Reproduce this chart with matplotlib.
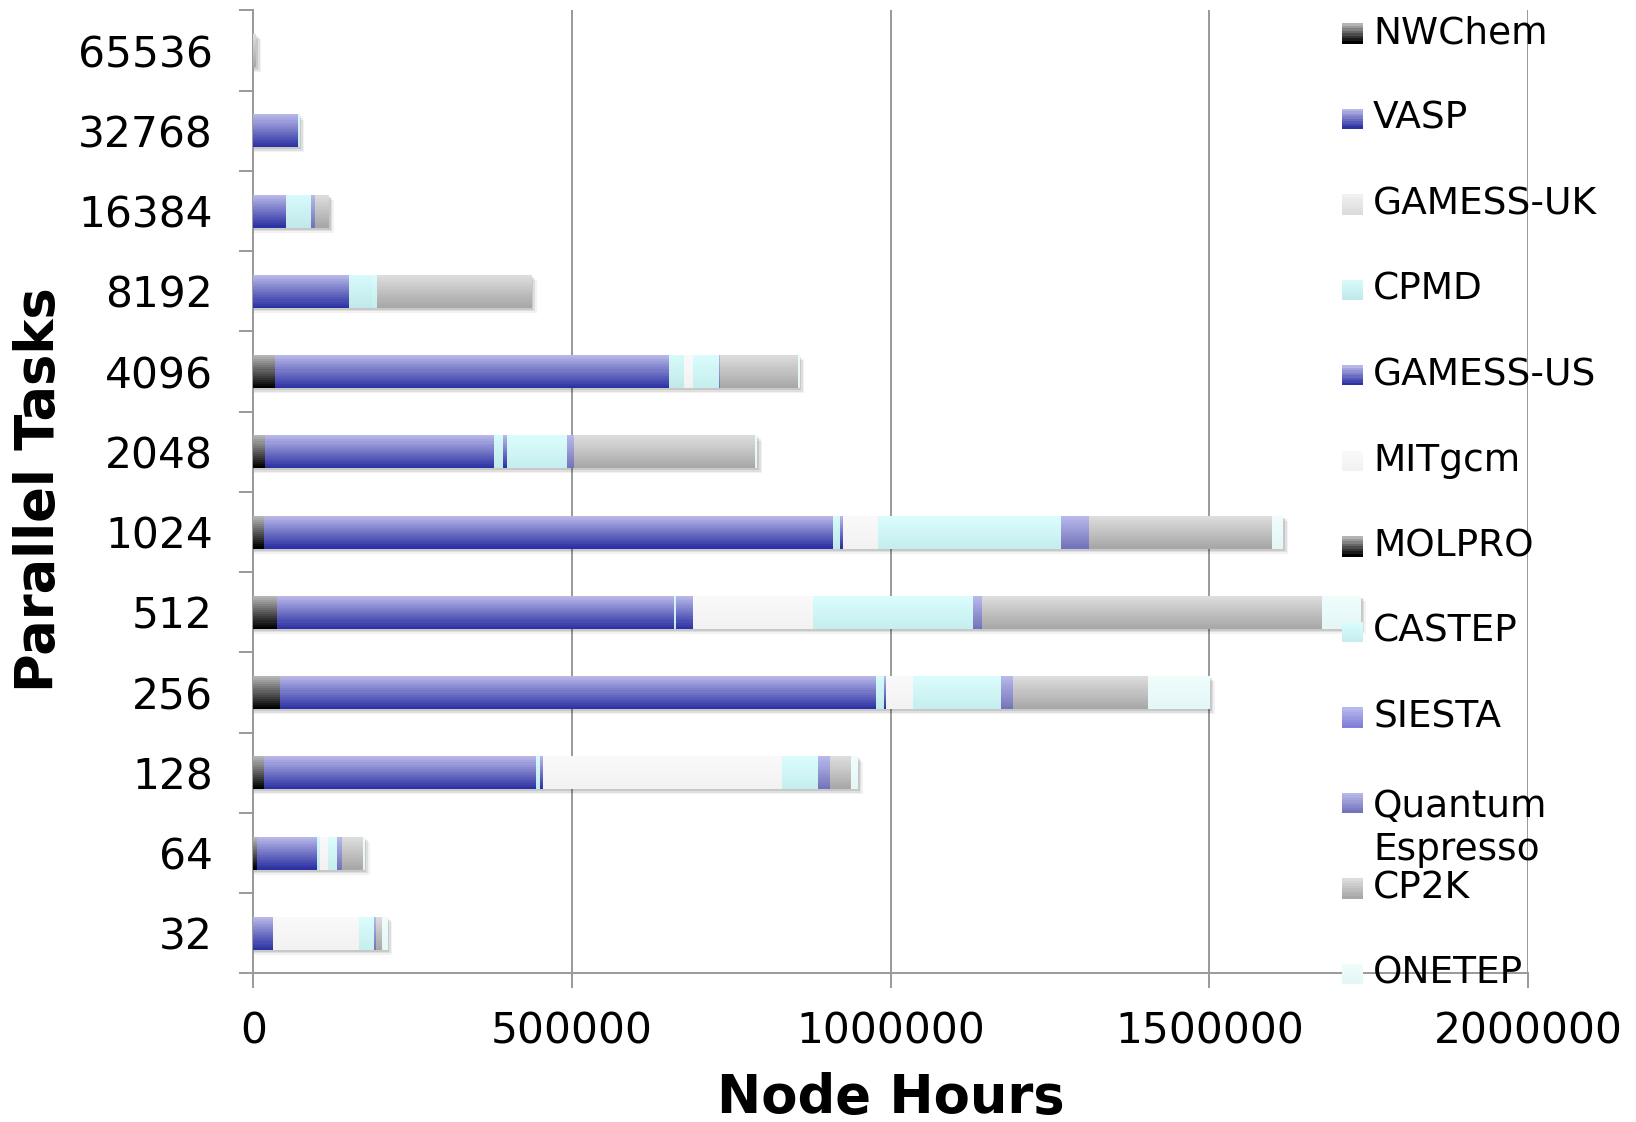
#!/usr/bin/env python3

import matplotlib
matplotlib.use('Agg')
import matplotlib.pyplot as plt
import numpy as np
from matplotlib.colors import to_rgb
from matplotlib.patches import Rectangle

# categories (bottom to top)
tasks = ['32', '64', '128', '256', '512', '1024', '2048', '4096', '8192', '16384', '32768', '65536']

# node hours per code, same order as tasks
nwchem    = [0, 6500, 17600, 42200, 37800, 17600, 18000, 33600, 0, 0, 0, 0]
vasp      = [30900, 93600, 425900, 935000, 622100, 891700, 359800, 618600, 150000, 51300, 70600, 0]
gamess_uk = [0, 0, 0, 0, 0, 0, 0, 0, 0, 0, 0, 0]
cpmd      = [0, 3900, 6500, 12600, 3500, 11200, 13800, 23400, 35600, 39200, 2000, 0]
gamess_us = [0, 0, 4500, 2800, 26600, 4900, 6000, 0, 0, 0, 0, 0]
mitgcm    = [134900, 13000, 374600, 42400, 188400, 54600, 0, 14400, 0, 0, 0, 0]
molpro    = [0, 0, 0, 0, 0, 0, 0, 0, 0, 0, 0, 0]
castep    = [23500, 14300, 56500, 138100, 250700, 286600, 94900, 40800, 7800, 0, 0, 0]
siesta    = [0, 0, 0, 0, 0, 0, 0, 0, 0, 0, 0, 0]
qe        = [2600, 7800, 18900, 19300, 14200, 44200, 10800, 1000, 0, 6300, 0, 0]
cp2k      = [9900, 33200, 33200, 211300, 533600, 288200, 284000, 122300, 243700, 22000, 0, 5000]
onetep    = [9000, 2600, 11000, 97300, 61500, 17300, 3600, 3000, 0, 0, 0, 0]

codes = ['NWChem', 'VASP', 'GAMESS-UK', 'CPMD', 'GAMESS-US', 'MITgcm', 'MOLPRO',
         'CASTEP', 'SIESTA', 'Quantum\nEspresso', 'CP2K', 'ONETEP']
series = [nwchem, vasp, gamess_uk, cpmd, gamess_us, mitgcm, molpro,
          castep, siesta, qe, cp2k, onetep]

# gradient colours (top, bottom) for each code
grads = [('#b4b4b4', '#000000'), ('#b6b6e8', '#2e33a3'), ('#f0f0f0', '#dcdcdc'),
         ('#d6fafa', '#c2e9ea'), ('#b6b6e8', '#2e33a3'), ('#f9f9f9', '#f2f2f2'),
         ('#b4b4b4', '#000000'), ('#dafcfc', '#c6eeee'), ('#b8b8f0', '#8080d8'),
         ('#b8b8ea', '#7474bc'), ('#dcdcdc', '#a8a8a8'), ('#f0fcfc', '#e4f6f6')]

xticks = [0, 500000, 1000000, 1500000, 2000000]

GRAY = '#999999'
NSTRIP = 16
H = 0.41


def lerp(c1, c2, t):
    a = np.array(to_rgb(c1))
    b = np.array(to_rgb(c2))
    return tuple(a + (b - a) * t)


fig = plt.figure(figsize=(16.36, 11.22), dpi=100)
ax = fig.add_axes([0.1548, 0.1324, 0.934 - 0.1548, 0.9907 - 0.1324])

y = np.arange(len(tasks))
data = np.array(series, dtype=float)
totals = data.sum(axis=0)

# soft shadow under the bars
for dx, dy, a in [(2500, 0.025, 0.10), (5000, 0.045, 0.08), (7500, 0.065, 0.05)]:
    ax.barh(y - dy, totals + dx, height=H, color='k', alpha=a, linewidth=0, zorder=2)

# stacked bars with vertical gradient built from thin strips
left = np.zeros(len(tasks))
sh = H / NSTRIP
for vals, (ctop, cbot) in zip(data, grads):
    for k in range(NSTRIP):
        yc = y + H / 2 - (k + 0.5) * sh
        col = lerp(ctop, cbot, k / (NSTRIP - 1))
        ax.barh(yc, vals, left=left, height=sh * 1.05, color=col, linewidth=0, zorder=3)
    left += vals

ax.set_xlim(0, 2000000)
ax.set_ylim(-0.5, len(tasks) - 0.5)

# grid and axes
ax.set_xticks(xticks)
ax.set_xticklabels([str(v) for v in xticks], fontsize=30.5)
ax.xaxis.grid(True, color=GRAY, linewidth=1.4, zorder=1)
ax.set_axisbelow(True)
ax.tick_params(axis='x', direction='out', length=11, width=1.4, color=GRAY, pad=16)

ax.set_yticks(y)
ax.set_yticklabels(tasks, fontsize=30.5)
ax.set_yticks(np.arange(len(tasks) + 1) - 0.5, minor=True)
ax.tick_params(axis='y', which='major', length=0, pad=29)
ax.tick_params(axis='y', which='minor', direction='out', length=10, width=1.4, color=GRAY)

for s in ['top', 'right']:
    ax.spines[s].set_visible(False)
for s in ['left', 'bottom']:
    ax.spines[s].set_color(GRAY)
    ax.spines[s].set_linewidth(1.4)

ax.set_xlabel('Node Hours', fontsize=38, fontweight='bold', va='center')
ax.xaxis.set_label_coords(0.5, -0.1293)
ax.set_ylabel('Parallel Tasks', fontsize=38, fontweight='bold', va='center')
ax.yaxis.set_label_coords(-0.168, 0.5025)

# legend drawn by hand to keep the fixed Excel-like row spacing
W, Hf = 1636.0, 1122.0
for i, (name, (ctop, cbot)) in enumerate(zip(codes, grads)):
    yc = 33.4 + i * 85.5
    for k in range(8):
        top = yc - 10 + k * 2.5
        col = lerp(ctop, cbot, k / 7)
        fig.patches.append(Rectangle((1342 / W, 1 - (top + 2.6) / Hf), 21 / W, 2.6 / Hf,
                                     transform=fig.transFigure, color=col, linewidth=0,
                                     zorder=5))
    if '\n' in name:
        fig.text(1373 / W, 1 - (yc + 26) / Hf, name, fontsize=27, va='center', ha='left',
                 linespacing=1.25, zorder=6)
    else:
        fig.text(1373 / W, 1 - yc / Hf, name, fontsize=27, va='center', ha='left', zorder=6)

fig.savefig('out.png', dpi=100)
